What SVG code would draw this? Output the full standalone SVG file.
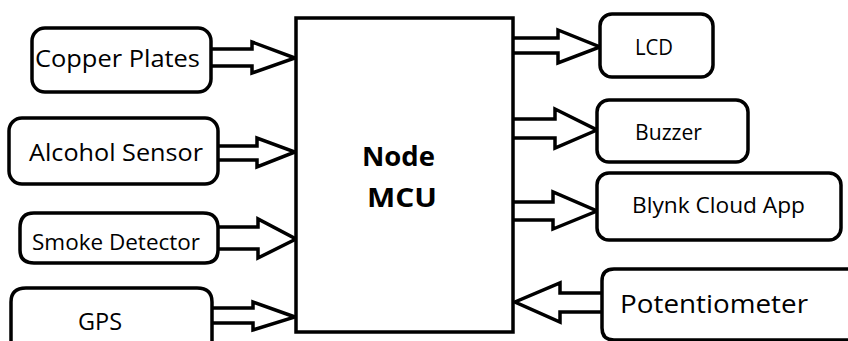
<svg xmlns="http://www.w3.org/2000/svg" width="848" height="341" viewBox="0 0 848 341">
<style>
.box{fill:#fff;stroke:#000;stroke-width:3.5}
.arr{fill:#fff;stroke:#000;stroke-width:3.5;stroke-linejoin:miter}
.t{font-family:"Open Sans","Noto Sans",sans-serif;fill:#000}
.b{font-weight:bold}
</style>
<rect width="848" height="341" fill="#fff"/>
<g id="connectors">
<path class="arr" d="M211,49 H252 V42 L295,58 L252,73 V66 H211"/>
<path class="arr" d="M218,146 H257 V138 L295,152 L257,167 V160 H218"/>
<path class="arr" d="M218,227 H258 V219 L296,239 L258,258 V249 H218"/>
<path class="arr" d="M212,308 H253 V302 L295,317 L253,330 V323 H212"/>
<path class="arr" d="M513,38 H558 V30 L600,47 L558,63 V53 H513"/>
<path class="arr" d="M513,119 H555 V109 L597,130 L555,148 V138 H513"/>
<path class="arr" d="M513,202 H553 V192 L597,211 L553,229 V220 H513"/>
<path class="arr" d="M602,293 H560 V283 L515,302 L560,322 V312 H602"/>
</g>
<g id="node-mcu">
<rect class="box" x="296" y="18" width="217" height="314"/>
<text class="t b" x="362" y="166" font-size="26" textLength="73" lengthAdjust="spacingAndGlyphs">Node</text>
<text class="t b" x="367" y="207" font-size="26" textLength="70" lengthAdjust="spacingAndGlyphs">MCU</text>
</g>
<g id="copper-plates">
<rect class="box" x="32" y="28" width="179" height="64" rx="13"/>
<text class="t" x="35" y="67" font-size="23" textLength="165" lengthAdjust="spacingAndGlyphs">Copper Plates</text>
</g>
<g id="alcohol-sensor">
<rect class="box" x="9" y="118" width="209" height="66" rx="13"/>
<text class="t" x="29" y="161" font-size="23" textLength="174" lengthAdjust="spacingAndGlyphs">Alcohol Sensor</text>
</g>
<g id="smoke-detector">
<path class="box" d="M34,213 H203 Q218,213 218,228 V250 Q218,263 205,263 H34 Q20,263 20,250 V228 Q20,213 34,213 Z"/>
<text class="t" x="32" y="250" font-size="22" textLength="168" lengthAdjust="spacingAndGlyphs">Smoke Detector</text>
</g>
<g id="gps">
<path class="box" d="M11,345 V302 Q11,288 26,288 H197 Q212,288 212,302 V345"/>
<text class="t" x="78" y="330" font-size="24" textLength="44" lengthAdjust="spacingAndGlyphs">GPS</text>
</g>
<g id="lcd">
<rect class="box" x="600" y="14" width="113" height="63" rx="12"/>
<text class="t" x="635" y="55" font-size="21" textLength="38" lengthAdjust="spacingAndGlyphs">LCD</text>
</g>
<g id="buzzer">
<rect class="box" x="597" y="100" width="151" height="62" rx="12"/>
<text class="t" x="635" y="140" font-size="21" textLength="67" lengthAdjust="spacingAndGlyphs">Buzzer</text>
</g>
<g id="blynk-cloud-app">
<rect class="box" x="597" y="173" width="244" height="67" rx="12"/>
<text class="t" x="632" y="213" font-size="22" textLength="173" lengthAdjust="spacingAndGlyphs">Blynk Cloud App</text>
</g>
<g id="potentiometer">
<path class="box" d="M852,269 H614 Q602,269 602,281 V328 Q602,340 614,340 H852"/>
<text class="t" x="620" y="313" font-size="26" textLength="188" lengthAdjust="spacingAndGlyphs">Potentiometer</text>
</g>
</svg>
